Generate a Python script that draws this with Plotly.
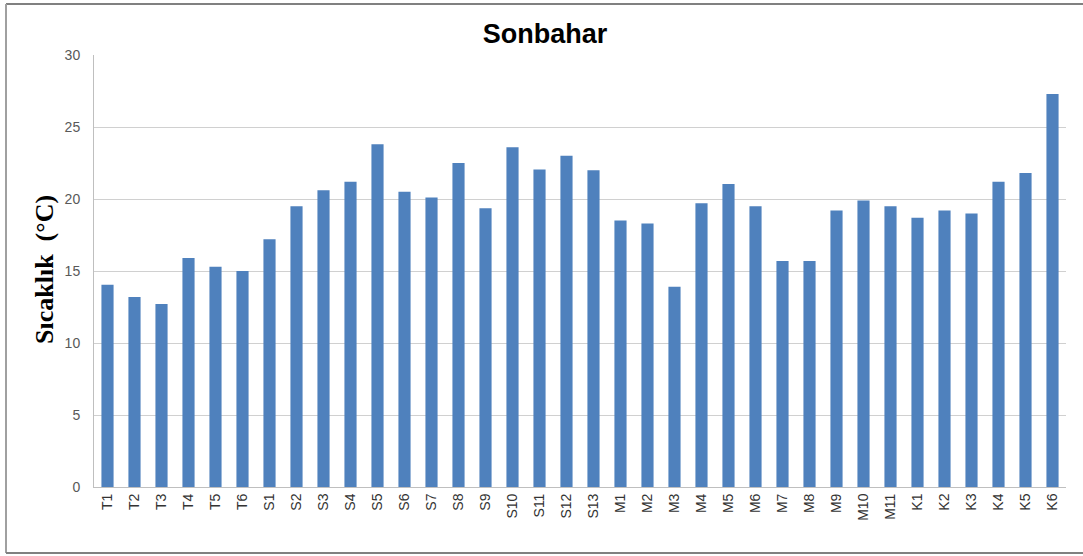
import plotly.graph_objects as go

categories = ["T1", "T2", "T3", "T4", "T5", "T6",
              "S1", "S2", "S3", "S4", "S5", "S6", "S7", "S8", "S9", "S10", "S11", "S12", "S13",
              "M1", "M2", "M3", "M4", "M5", "M6", "M7", "M8", "M9", "M10", "M11",
              "K1", "K2", "K3", "K4", "K5", "K6"]
values = [14.05, 13.2, 12.7, 15.9, 15.3, 15.0,
          17.2, 19.5, 20.6, 21.2, 23.8, 20.5, 20.1, 22.5, 19.35, 23.6, 22.05, 23.0, 22.0,
          18.5, 18.3, 13.9, 19.7, 21.05, 19.5, 15.7, 15.7, 19.2, 19.9, 19.5,
          18.7, 19.2, 19.0, 21.2, 21.8, 27.3]
y_ticks = [0, 5, 10, 15, 20, 25, 30]

W, H = 1083, 556
L, R, T, B = 94, 17, 55, 69
pw, ph = W - L - R, H - T - B

def px2x(p):
    return (p - L) / pw

def py2y(p):
    return (H - B - p) / ph

fig = go.Figure(go.Bar(x=categories, y=values, marker=dict(color="#4F81BD", line=dict(width=0)),
                       width=0.45))

fig.update_layout(
    width=W, height=H,
    margin=dict(l=L, r=R, t=T, b=B),
    paper_bgcolor="white", plot_bgcolor="white",
    showlegend=False,
    title=dict(text="<b>Sonbahar</b>", x=545 / W, xanchor="center", xref="container",
               y=1 - 34 / H, yanchor="middle", yref="container",
               font=dict(family="Liberation Sans", size=27, color="#000000")),
    xaxis=dict(type="category", tickangle=-90, showgrid=False,
               showline=True, linecolor="#bfbfbf", linewidth=1,
               tickfont=dict(family="Liberation Sans", size=14, color="#333333"),
               ticks="", range=[-0.5, len(categories) - 0.5]),
    yaxis=dict(range=[0, 30], tickvals=y_ticks, ticktext=[str(v) for v in y_ticks],
               showgrid=True, gridcolor="#d0d0d0", gridwidth=1,
               showline=True, linecolor="#bfbfbf", linewidth=1, zeroline=False,
               tickfont=dict(family="Liberation Sans", size=14, color="#595959"),
               ticks="", ticklabelstandoff=10),
    annotations=[dict(text="<b>Sıcaklık  (°C)</b>", xref="paper", yref="paper",
                      x=px2x(44), y=py2y(270), xanchor="center", yanchor="middle",
                      textangle=-90, showarrow=False,
                      font=dict(family="Liberation Serif", size=26, color="#000000"))],
    shapes=[
        dict(type="line", xref="paper", yref="paper", x0=px2x(6), x1=px2x(1090),
             y0=py2y(4), y1=py2y(4), line=dict(color="#808080", width=2)),
        dict(type="line", xref="paper", yref="paper", x0=px2x(6), x1=px2x(6),
             y0=py2y(4), y1=py2y(553), line=dict(color="#a0a0a0", width=2)),
        dict(type="line", xref="paper", yref="paper", x0=px2x(6), x1=px2x(1090),
             y0=py2y(553), y1=py2y(553), line=dict(color="#808080", width=2)),
    ],
)

fig.write_html("out.html", config={"displayModeBar": False})

with open("out.html", "r", encoding="utf-8") as f:
    html = f.read()
html = html.replace("<head>", "<head><style>html,body{margin:0;padding:0;overflow:hidden;}</style>", 1)
with open("out.html", "w", encoding="utf-8") as f:
    f.write(html)
